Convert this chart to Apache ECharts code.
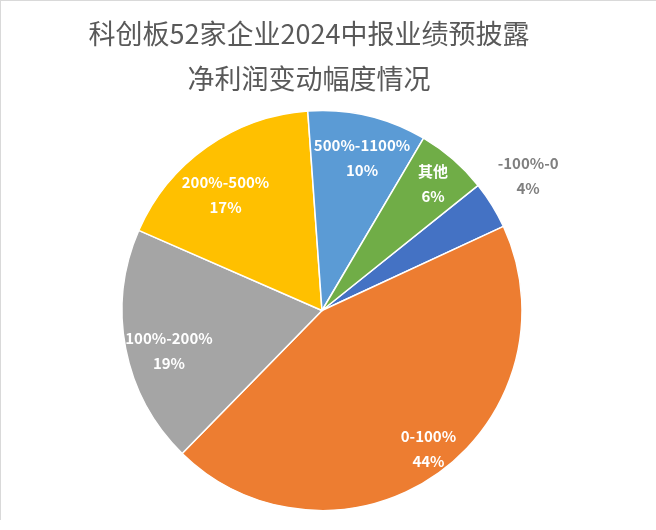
<!DOCTYPE html>
<html>
<head>
<meta charset="utf-8">
<script src="https://cdn.jsdelivr.net/npm/echarts@6/dist/echarts.min.js"></script>
<style>
  html, body { margin: 0; padding: 0; background: #ffffff; }
  #frame { position: absolute; left: 0; top: 0; width: 656px; height: 520px; border-top: 1px solid #d9d9d9; border-left: 1px solid #d9d9d9; box-sizing: border-box; pointer-events: none; z-index: 2; }
  #chart { position: absolute; left: 0; top: 0; width: 656px; height: 530px; }
</style>
</head>
<body>
<div id="chart"></div>
<div id="frame"></div>
<script>
const titleLines = ['科创板52家企业2024中报业绩预披露', '净利润变动幅度情况'];
const categories = ['-100%-0', '0-100%', '100%-200%', '200%-500%', '500%-1100%', '其他'];
const counts = [2, 23, 10, 9, 5, 3];
const colors = ['#4472C4', '#ED7D31', '#A5A5A5', '#FFC000', '#5B9BD5', '#70AD47'];
const outsideCategories = ['-100%-0'];

// label nudges (style only), keyed by category
const labelNudge = {
  '-100%-0': [-3, -5],
  '0-100%': [13, 6],
  '100%-200%': [6, 9],
  '200%-500%': [-3, 17],
  '500%-1100%': [3, 5],
  '其他': [5, -4]
};

const data = categories.map((c, i) => ({ name: c, value: counts[i], itemStyle: { color: colors[i] } }));
const insideData = categories.map((c, i) => ({ name: c, value: counts[i], label: { show: outsideCategories.indexOf(c) < 0 } }));
const outsideData = categories.map((c, i) => ({ name: c, value: counts[i], label: { show: outsideCategories.indexOf(c) >= 0 } }));

const center = [322, 310.5];
const startAngle = 38.7;
const labelBase = {
  position: 'inside',
  formatter: '{b}\n{d}%',
  fontFamily: 'Noto Sans CJK SC',
  fontWeight: 'bold',
  fontSize: 15,
  lineHeight: 25,
  color: '#ffffff'
};
function nudge(params) {
  const n = labelNudge[categories[params.dataIndex]] || [0, 0];
  return { dx: n[0], dy: n[1] };
}
const ghost = {
  type: 'pie',
  center: center,
  startAngle: startAngle,
  clockwise: true,
  silent: true,
  percentPrecision: 0,
  avoidLabelOverlap: false,
  itemStyle: { color: 'rgba(0,0,0,0)', borderWidth: 0 },
  emphasis: { disabled: true },
  labelLine: { show: false },
  labelLayout: nudge,
  z: 5
};

const chart = echarts.init(document.getElementById('chart'), null, { renderer: 'canvas' });
chart.setOption({
  animation: false,
  backgroundColor: '#ffffff',
  title: {
    text: titleLines.join('\n'),
    left: 309,
    top: 11,
    padding: 0,
    textAlign: 'center',
    textStyle: {
      fontFamily: 'Noto Sans CJK SC',
      fontWeight: 'normal',
      fontSize: 27,
      lineHeight: 45,
      color: '#595959'
    }
  },
  series: [
    {
      type: 'pie',
      center: center,
      radius: [0, 200],
      startAngle: startAngle,
      clockwise: true,
      silent: true,
      percentPrecision: 0,
      data: data,
      itemStyle: { borderColor: '#ffffff', borderWidth: 1.5 },
      label: { show: false },
      labelLine: { show: false },
      emphasis: { disabled: true }
    },
    Object.assign({}, ghost, {
      radius: [0, 318],
      data: insideData,
      label: Object.assign({}, labelBase)
    }),
    Object.assign({}, ghost, {
      radius: [0, 486],
      data: outsideData,
      label: Object.assign({}, labelBase, { color: '#7F7F7F' })
    })
  ]
});
</script>
</body>
</html>
